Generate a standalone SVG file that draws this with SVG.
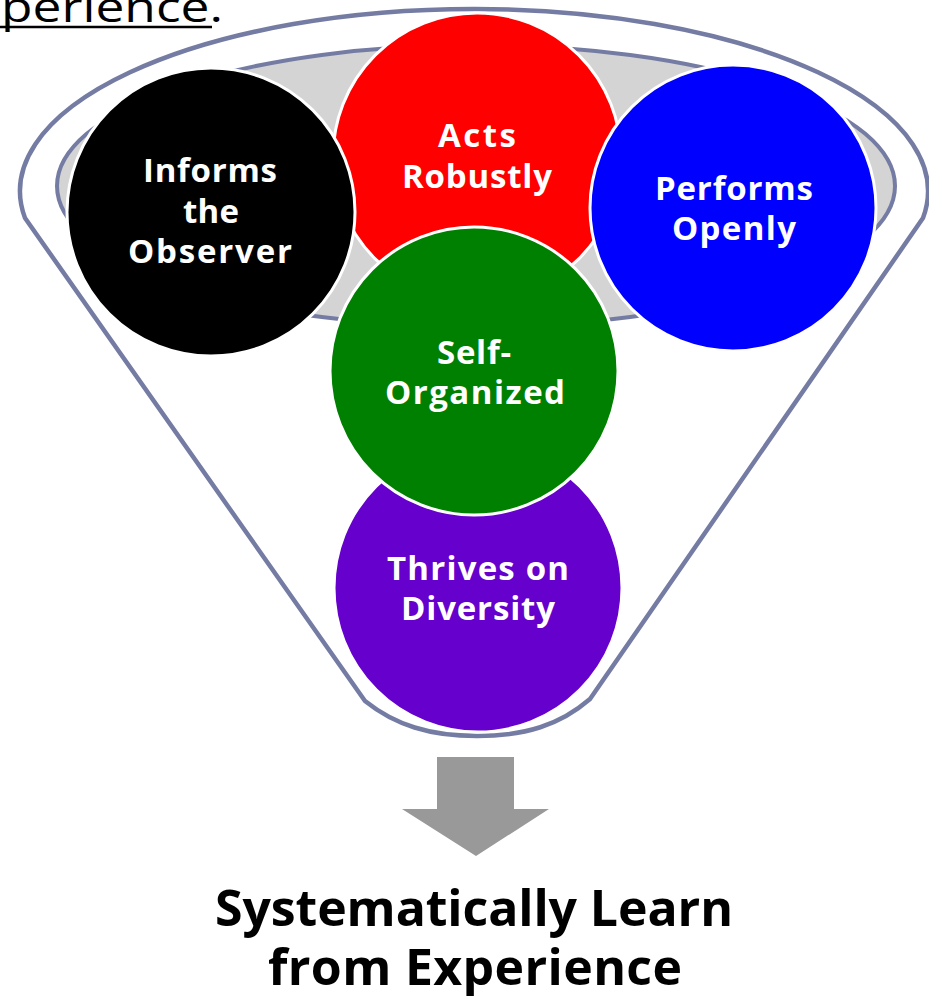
<svg xmlns="http://www.w3.org/2000/svg" width="929" height="996" viewBox="0 0 929 996">
<style>
.lbl{font-family:"Open Sans",Lato,"Liberation Sans",sans-serif;font-weight:bold;font-size:33px;fill:#ffffff;text-anchor:middle}
.node{stroke:#ffffff;stroke-width:3}
.funnel{fill:none;stroke:#747ca4;stroke-width:4.5;stroke-linejoin:round}
.big{font-family:"Open Sans",Lato,"Liberation Sans",sans-serif;font-weight:bold;font-size:50px;fill:#000000;text-anchor:middle}
</style>
<rect width="929" height="996" fill="#ffffff"/>
<text x="1" y="22" textLength="222" lengthAdjust="spacingAndGlyphs" style="font-family:'Open Sans',Lato,'Liberation Sans',sans-serif;font-size:42px;fill:#000">perience.</text>
<line x1="0" y1="27" x2="212" y2="27" stroke="#000" stroke-width="2.5"/>
<g id="funnel">
<path class="funnel" d="M 25 218 A 454 182 0 1 1 923 218 L 590 699 C 560 725, 525 736, 477 736 C 430 736, 395 725, 365 701 Z"/>
<ellipse cx="476" cy="186" rx="419" ry="141" fill="#d4d4d4" stroke="#747ca4" stroke-width="4"/>
</g>
<g id="node-acts">
<circle class="node" cx="477" cy="157" r="144" fill="#ff0000"/>
<text class="lbl" x="477" y="147" textLength="78" lengthAdjust="spacing">Acts</text>
<text class="lbl" x="477" y="188" textLength="150" lengthAdjust="spacing">Robustly</text>
</g>
<g id="node-informs">
<circle class="node" cx="211" cy="212" r="144" fill="#000000"/>
<text class="lbl" x="210" y="182" textLength="134" lengthAdjust="spacing">Informs</text>
<text class="lbl" x="211" y="223" textLength="56" lengthAdjust="spacing">the</text>
<text class="lbl" x="210" y="263" textLength="164" lengthAdjust="spacing">Observer</text>
</g>
<g id="node-performs">
<circle class="node" cx="733" cy="208" r="143" fill="#0000ff"/>
<text class="lbl" x="734" y="200" textLength="158" lengthAdjust="spacing">Performs</text>
<text class="lbl" x="734" y="240" textLength="124" lengthAdjust="spacing">Openly</text>
</g>
<g id="node-thrives">
<circle class="node" cx="478" cy="588" r="144" fill="#6600cc"/>
<text class="lbl" x="478" y="580" textLength="182" lengthAdjust="spacing">Thrives on</text>
<text class="lbl" x="478" y="620" textLength="154" lengthAdjust="spacing">Diversity</text>
</g>
<g id="node-self">
<circle class="node" cx="474" cy="371" r="144" fill="#008000"/>
<text class="lbl" x="474" y="364" textLength="74" lengthAdjust="spacing">Self-</text>
<text class="lbl" x="475" y="404" textLength="180" lengthAdjust="spacing">Organized</text>
</g>
<g id="connectors">
<path d="M 437 757 L 514 757 L 514 809 L 549 809 L 476 856 L 402 809 L 437 809 Z" fill="#999999"/>
</g>
<g id="result">
<text class="big" x="474" y="926" textLength="518" lengthAdjust="spacing">Systematically Learn</text>
<text class="big" x="475" y="985" textLength="414" lengthAdjust="spacing">from Experience</text>
</g>
</svg>
